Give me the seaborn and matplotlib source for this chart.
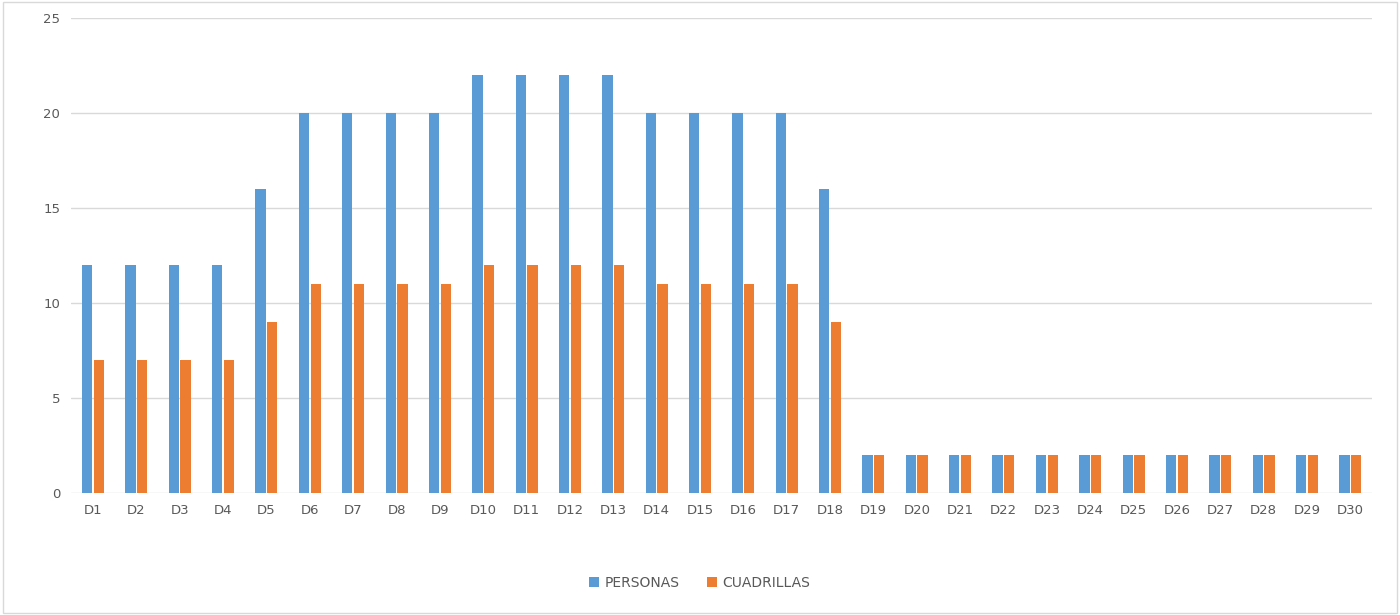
import seaborn as sns
import numpy as np
import pandas as pd
import matplotlib.pyplot as plt

dias = ['D%d' % i for i in range(1, 31)]
personas = [12, 12, 12, 12, 16, 20, 20, 20, 20, 22, 22, 22, 22, 20, 20, 20, 20, 16,
            2, 2, 2, 2, 2, 2, 2, 2, 2, 2, 2, 2]
cuadrillas = [7, 7, 7, 7, 9, 11, 11, 11, 11, 12, 12, 12, 12, 11, 11, 11, 11, 9,
              2, 2, 2, 2, 2, 2, 2, 2, 2, 2, 2, 2]
series = ['PERSONAS', 'CUADRILLAS']
colores = ['#5B9BD5', '#ED7D31']

df = pd.DataFrame({'dia': dias * 2,
                   'valor': personas + cuadrillas,
                   'serie': [series[0]] * len(dias) + [series[1]] * len(dias)})

sns.set_style('white')
plt.rcParams['font.family'] = ['DejaVu Sans']

fig = plt.figure(figsize=(14, 6.15), dpi=100)
ax = fig.add_axes([0.051, 0.198, 0.929, 0.773])

sns.barplot(data=df, x='dia', y='valor', hue='serie', palette=colores,
            width=0.54, gap=0.12, saturation=1, linewidth=0, ax=ax, legend=True)

ax.set_ylim(0, 25)
ax.set_yticks(np.arange(0, 26, 5))
ax.set_xlim(-0.5, len(dias) - 0.5)
ax.yaxis.grid(True, color='#d9d9d9', linewidth=1)
ax.set_axisbelow(True)
for s in ax.spines.values():
    s.set_visible(False)
ax.set_xlabel('')
ax.set_ylabel('')
ax.tick_params(axis='both', length=0, labelsize=9.5, colors='#595959', pad=8)

handles, labels = ax.get_legend_handles_labels()
ax.legend_.remove()
fig.legend(handles, labels, loc='center', bbox_to_anchor=(0.5, 0.052), ncol=2,
           frameon=False, fontsize=10, handlelength=0.7, handleheight=0.7,
           columnspacing=2, handletextpad=0.4, labelcolor='#595959')

fig.patches.append(plt.Rectangle((0.002, 0.003), 0.996, 0.994, transform=fig.transFigure,
                                 fill=False, edgecolor='#d9d9d9', linewidth=1))

fig.savefig('out.png', dpi=100)
